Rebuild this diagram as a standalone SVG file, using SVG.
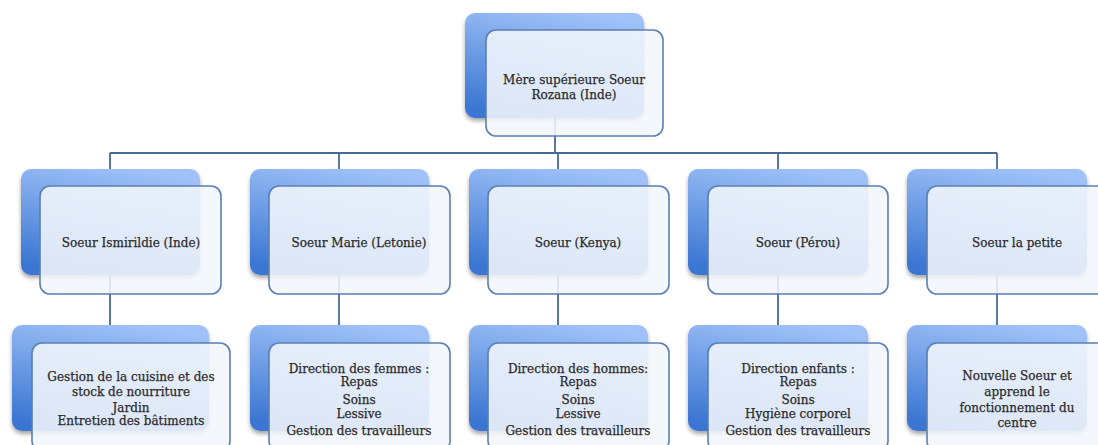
<svg xmlns="http://www.w3.org/2000/svg" width="1098" height="445" viewBox="0 0 1098 445">
<style>
.back{fill:url(#bg);filter:url(#sh)}
.front{fill:#f2f6fc;fill-opacity:0.88;stroke:#5a7fb1;stroke-width:1.6}
.conn{stroke:#4a6994;stroke-width:1.8;fill:none}
text{font-family:"DejaVu Serif","Liberation Serif",serif;font-size:12px;fill:#2a2a2a;stroke:#2a2a2a;stroke-width:0.25;text-anchor:middle}
</style>
<defs>
<linearGradient id="bg" x1="0.35" y1="1" x2="0.65" y2="0">
<stop offset="0" stop-color="#3a76d2"/>
<stop offset="1" stop-color="#a0c2f8"/>
</linearGradient>
<filter id="sh" x="-10%" y="-10%" width="125%" height="130%">
<feGaussianBlur in="SourceAlpha" stdDeviation="2"/>
<feOffset dx="0" dy="3" result="b"/>
<feComponentTransfer><feFuncA type="linear" slope="0.35"/></feComponentTransfer>
<feMerge><feMergeNode/><feMergeNode in="SourceGraphic"/></feMerge>
</filter>
</defs>
<rect width="1098" height="445" fill="#ffffff"/>
<g id="connectors">
<path class="conn" d="M555,70 V153 M110,153 H997"/>
<path class="conn" d="M110,153 V169 M339,153 V169 M558,153 V169 M778,153 V169 M997,153 V169"/>
<path class="conn" d="M110,240 V325 M339,240 V325 M558,240 V325 M778,240 V325 M997,240 V325"/>
</g>
<g id="n0">
<rect class="back" x="465" y="13" width="179" height="105" rx="10"/>
<rect class="front" x="486" y="30" width="177" height="106" rx="10"/>
<text x="574" y="84">Mère supérieure Soeur</text>
<text x="574" y="99">Rozana (Inde)</text>
</g>
<g id="n1">
<rect class="back" x="21" y="169" width="179" height="106" rx="10"/>
<rect class="front" x="40" y="186" width="181" height="108" rx="10"/>
<text x="131" y="247">Soeur Ismirildie (Inde)</text>
</g>
<g id="n2">
<rect class="back" x="250" y="169" width="179" height="106" rx="10"/>
<rect class="front" x="269" y="186" width="181" height="108" rx="10"/>
<text x="359" y="247">Soeur Marie (Letonie)</text>
</g>
<g id="n3">
<rect class="back" x="469" y="169" width="179" height="106" rx="10"/>
<rect class="front" x="488" y="186" width="181" height="108" rx="10"/>
<text x="578" y="247">Soeur (Kenya)</text>
</g>
<g id="n4">
<rect class="back" x="688" y="169" width="180" height="106" rx="10"/>
<rect class="front" x="708" y="186" width="180" height="108" rx="10"/>
<text x="798" y="247">Soeur (Pérou)</text>
</g>
<g id="n5">
<rect class="back" x="907" y="169" width="180" height="106" rx="10"/>
<rect class="front" x="927" y="186" width="181" height="108" rx="10"/>
<text x="1017" y="247">Soeur la petite</text>
</g>
<g id="n6">
<rect class="back" x="12" y="325" width="197" height="106" rx="10"/>
<rect class="front" x="32" y="343" width="198" height="108" rx="10"/>
<text x="131" y="381">Gestion de la cuisine et des</text>
<text x="131" y="396">stock de nourriture</text>
<text x="131" y="412">Jardin</text>
<text x="131" y="425">Entretien des bâtiments</text>
</g>
<g id="n7">
<rect class="back" x="250" y="325" width="179" height="106" rx="10"/>
<rect class="front" x="269" y="343" width="181" height="108" rx="10"/>
<text x="359" y="373">Direction des femmes :</text>
<text x="359" y="386">Repas</text>
<text x="359" y="404">Soins</text>
<text x="359" y="418">Lessive</text>
<text x="359" y="435">Gestion des travailleurs</text>
</g>
<g id="n8">
<rect class="back" x="469" y="325" width="179" height="106" rx="10"/>
<rect class="front" x="488" y="343" width="181" height="108" rx="10"/>
<text x="578" y="373">Direction des hommes:</text>
<text x="578" y="386">Repas</text>
<text x="578" y="404">Soins</text>
<text x="578" y="418">Lessive</text>
<text x="578" y="435">Gestion des travailleurs</text>
</g>
<g id="n9">
<rect class="back" x="688" y="325" width="180" height="106" rx="10"/>
<rect class="front" x="708" y="343" width="180" height="108" rx="10"/>
<text x="798" y="373">Direction enfants :</text>
<text x="798" y="386">Repas</text>
<text x="798" y="404">Soins</text>
<text x="798" y="418">Hygiène corporel</text>
<text x="798" y="435">Gestion des travailleurs</text>
</g>
<g id="n10">
<rect class="back" x="907" y="325" width="180" height="106" rx="10"/>
<rect class="front" x="927" y="343" width="181" height="108" rx="10"/>
<text x="1017" y="380">Nouvelle Soeur et</text>
<text x="1017" y="396">apprend le</text>
<text x="1017" y="412">fonctionnement du</text>
<text x="1017" y="427">centre</text>
</g>
</svg>
